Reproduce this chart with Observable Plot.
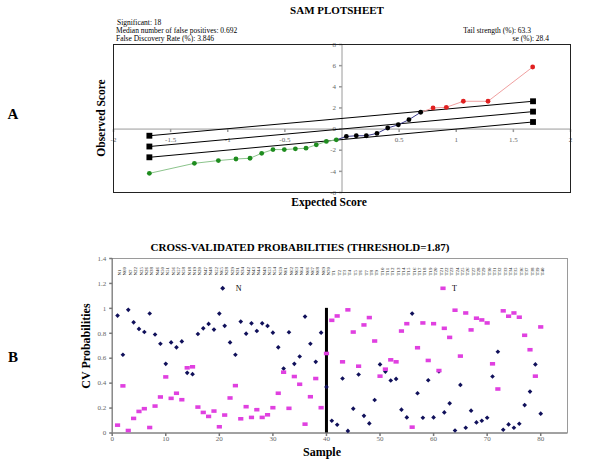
<!DOCTYPE html>
<html><head><meta charset="utf-8">
<script src="https://cdn.jsdelivr.net/npm/d3@7"></script>
<script src="https://cdn.jsdelivr.net/npm/@observablehq/plot@0.6"></script>
<style>
body{margin:0;background:#fff;}
#wrap{position:relative;width:600px;height:464px;overflow:hidden;background:#fff;}
#wrap svg{position:absolute;left:0;}
</style></head><body><div id="wrap"></div>
<script>
// ---------- Panel A data (SAM plot) ----------
const negX = [-1.686,-1.292,-1.082,-0.928,-0.805,-0.703,-0.604,-0.505,-0.408,-0.315,-0.225,-0.137,-0.05];
const negY = [-4.19,-3.24,-2.98,-2.83,-2.76,-2.29,-1.94,-1.94,-1.87,-1.81,-1.49,-1.17,-1.02];
const midX = [0.038,0.125,0.213,0.306,0.40,0.493,0.586,0.689];
const midY = [-0.70,-0.63,-0.63,-0.41,0.10,0.41,0.89,1.59];
const posX = [0.797,0.913,1.062,1.278,1.669];
const posY = [2.0,2.06,2.63,2.63,5.87];
const bandX = [-1.686, 1.672];
const upperY = [-0.63, 2.63];
const middleY = [-1.65, 1.65];
const lowerY = [-2.67, 0.67];
const aXTicks = [-2,-1.5,-1,-0.5,0.5,1,1.5,2];
const aYTicks = [-6,-4,-2,0,2,4,6,8];

// ---------- Panel B data (CV probabilities) ----------
const probN = [0.942,0.628,0.988,0.888,0.835,0.81,0.959,0.79,0.716,0.555,
  0.727,0.687,0.735,0.483,0.472,0.794,0.84,0.875,0.83,0.958,
  0.86,0.727,0.628,0.894,0.797,0.88,0.818,0.88,0.859,0.805,
  0.687,0.517,0.808,0.555,0.614,0.934,0.716,0.571,0.805,0.37,
  0.098,0.066,0.437,0.017,0.195,0.469,0.138,0.077,0.265,0.55,
  0.493,0.421,0.434,0.187,0.125,0.958,0.319,0.122,0.423,0.125,
  0.495,0.165,0.238,0.02,0.386,0.042,0.179,0.085,0.098,0.122,
  0.453,0.652,0.026,0.069,0.042,0.074,0.224,0.332,0.55,0.155];
const probT = [0.063,0.378,0.02,0.117,0.173,0.195,0.044,0.216,0.289,0.45,
  0.278,0.319,0.267,0.523,0.531,0.208,0.165,0.133,0.176,0.05,
  0.144,0.281,0.38,0.114,0.211,0.125,0.187,0.125,0.146,0.203,
  0.319,0.488,0.198,0.453,0.391,0.071,0.291,0.437,0.203,0.638,
  0.904,0.939,0.571,0.988,0.81,0.536,0.867,0.926,0.738,0.456,
  0.512,0.587,0.571,0.818,0.877,0.047,0.684,0.883,0.582,0.877,
  0.501,0.84,0.767,0.985,0.617,0.963,0.827,0.921,0.907,0.883,
  0.555,0.353,0.98,0.937,0.963,0.929,0.784,0.668,0.456,0.851];
const sampleLabels = ["N1","N60","N7","N22","N25","N26","N38","N46","N50","N51",
  "N56","N57","N58","N18","N19","N20","N47","N48","N52","N65",
  "N28","N29","N31","N34","N42","N43","N44","N49","N53","N54",
  "N59","N61","N62","N63","N64","N66","N67","N68","N69","N70",
  "T1","T2","T3","T4","T5","T6","T7","T8","T9","T10",
  "T11","T12","T13","T14","T15","T16","T17","T18","T19","T20",
  "T21","T22","T23","T24","T25","T26","T27","T28","T29","T30",
  "T31","T32","T33","T34","T35","T36","T37","T38","T39","T40"];
const thresholdX = 40;
const thresholdTop = 1.0;
const bXTicks = [0,10,20,30,40,50,60,70,80];
const bYTicks = [0,0.2,0.4,0.6,0.8,1,1.2,1.4];

// ---------- helpers ----------
const serif = '"Liberation Serif","Times New Roman",serif';
const zip = (X, Y) => X.map((x, i) => ({x, y: Y[i]}));
const vtick = {draw(ctx){ctx.moveTo(0,0);ctx.lineTo(0,3);}};
const htick = {draw(ctx){ctx.moveTo(-3,0);ctx.lineTo(0,0);}};
const rectSym = {draw(ctx){ctx.rect(-2.6,-1.8,5.2,3.6);}};
const fmt = d => String(+(+d).toFixed(1));

const negPts = zip(negX, negY);
const midPts = zip(midX, midY);
const posPts = zip(posX, posY);
const midLine = [negPts[negPts.length-1], ...midPts];
const posLine = [midPts[midPts.length-1], ...posPts];
const bands = [upperY, middleY, lowerY].map((Y, k) => zip(bandX, Y).map(d => ({...d, k})));
const bandPts = bands.flat();

const wrap = document.getElementById("wrap");

const plotA = Plot.plot({
  width: 600, height: 190,
  marginTop: 14, marginBottom: 28, marginLeft: 113, marginRight: 30,
  x: {domain: [-2, 2], axis: null},
  y: {domain: [-6, 8], axis: null},
  style: {fontFamily: serif, background: "transparent"},
  marks: [
    Plot.ruleY([0], {stroke: "#9a9a9a"}),
    Plot.ruleX([0], {stroke: "#9a9a9a"}),
    Plot.dot(aXTicks, {x: d => d, y: () => 0, symbol: vtick, stroke: "#9a9a9a", fill: "none"}),
    Plot.text(aXTicks, {x: d => d, y: () => 0, dy: 11, text: d => String(d), fontSize: 7, fill: "#666"}),
    Plot.dot(aYTicks, {x: () => 0, y: d => d, symbol: htick, stroke: "#9a9a9a", fill: "none"}),
    Plot.text(aYTicks, {x: () => 0, y: d => d, dx: -6, textAnchor: "end", text: d => String(d), fontSize: 7, fill: "#666"}),
    Plot.line(bandPts, {x: "x", y: "y", z: "k", stroke: "#000", strokeWidth: 1}),
    Plot.dot(bandPts, {x: "x", y: "y", symbol: "square", r: 3.3, fill: "#000"}),
    Plot.line(negPts, {x: "x", y: "y", stroke: "#8cc48c", strokeWidth: 1}),
    Plot.line(midLine, {x: "x", y: "y", stroke: "#3a3a8a", strokeWidth: 1}),
    Plot.line(posLine, {x: "x", y: "y", stroke: "#f0a0a0", strokeWidth: 1}),
    Plot.dot(negPts, {x: "x", y: "y", r: 2.4, fill: "#1e8c1e"}),
    Plot.dot(midPts, {x: "x", y: "y", r: 2.4, fill: "#000"}),
    Plot.dot(posPts, {x: "x", y: "y", r: 2.4, fill: "#e02020"}),
    Plot.frame({stroke: "#222"})
  ]
});
plotA.style.top = "30px";
wrap.appendChild(plotA);

const bData = probN.map((n, i) => ({i: i + 1, n, t: probT[i], label: sampleLabels[i]}));

const plotB = Plot.plot({
  width: 600, height: 200,
  marginTop: 8, marginBottom: 17.5, marginLeft: 111.7, marginRight: 33,
  x: {domain: [0, 85], axis: null},
  y: {domain: [0, 1.4], axis: null},
  style: {fontFamily: serif, background: "transparent"},
  marks: [
    Plot.frame({stroke: "#9a9a9a"}),
    Plot.ruleX([0], {stroke: "#777"}),
    Plot.ruleY([0], {stroke: "#777"}),
    Plot.dot(bXTicks, {x: d => d, frameAnchor: "bottom", symbol: vtick, stroke: "#777", fill: "none"}),
    Plot.text(bXTicks, {x: d => d, frameAnchor: "bottom", dy: 8, text: d => String(d), fontSize: 7, fill: "#666"}),
    Plot.dot(bYTicks, {y: d => d, frameAnchor: "left", symbol: htick, stroke: "#777", fill: "none"}),
    Plot.text(bYTicks, {y: d => d, frameAnchor: "left", dx: -6, textAnchor: "end", text: fmt, fontSize: 7, fill: "#666"}),
    Plot.text(bData, {x: "i", frameAnchor: "top", dy: 17, rotate: -90, textAnchor: "start", text: "label", fontSize: 5, fill: "#222"}),
    Plot.ruleX([thresholdX], {y1: () => 0, y2: () => thresholdTop, stroke: "#000", strokeWidth: 3}),
    Plot.dot(bData, {x: "i", y: "n", symbol: "diamond2", r: 2.1, fill: "#10105a"}),
    Plot.dot(bData, {x: "i", y: "t", symbol: rectSym, fill: "#e040e0"})
  ]
});
plotB.style.top = "250px";
wrap.appendChild(plotB);

// ---------- titles, annotations, legend ----------
const ov = d3.create("svg").attr("width", 600).attr("height", 464)
  .style("top", "0px").attr("font-family", serif);
const T = (x, y, s, size, opts = {}) => {
  const t = ov.append("text").attr("x", x).attr("y", y).attr("font-size", size)
    .attr("text-anchor", opts.anchor || "start").attr("font-weight", opts.bold ? "bold" : "normal")
    .attr("fill", opts.fill || "#000").text(s);
  if (opts.rotate) t.attr("transform", `rotate(${opts.rotate},${x},${y})`);
  return t;
};
T(337, 14, "SAM PLOTSHEET", 11, {anchor: "middle", bold: true});
T(117, 25, "Significant: 18", 7.5);
T(116, 33, "Median number of false positives: 0.692", 7.5);
T(116, 41, "False Discovery Rate (%): 3.846", 7.5);
T(531, 33, "Tail strength (%): 63.3", 7.5, {anchor: "end"});
T(549, 41, "se (%): 28.4", 7.5, {anchor: "end"});
T(13, 119, "A", 15, {anchor: "middle", bold: true});
T(13, 362, "B", 15, {anchor: "middle", bold: true});
T(105, 118, "Observed Score", 11.5, {anchor: "middle", bold: true, rotate: -90});
T(329, 206, "Expected Score", 11.5, {anchor: "middle", bold: true});
T(300, 251, "CROSS-VALIDATED PROBABILITIES (THRESHOLD=1.87)", 11, {anchor: "middle", bold: true});
T(90, 346, "CV Probabilities", 12, {anchor: "middle", bold: true, rotate: -90});
T(322, 456, "Sample", 12, {anchor: "middle", bold: true});
// legend
ov.append("path").attr("d", "M222.7,285.8L225.2,288.3L222.7,290.8L220.2,288.3Z").attr("fill", "#10105a");
T(235.7, 291, "N", 8);
ov.append("rect").attr("x", 440.4).attr("y", 286.5).attr("width", 5.2).attr("height", 3.6).attr("fill", "#e040e0");
T(452, 291, "T", 8);
wrap.appendChild(ov.node());
</script>
</body></html>
